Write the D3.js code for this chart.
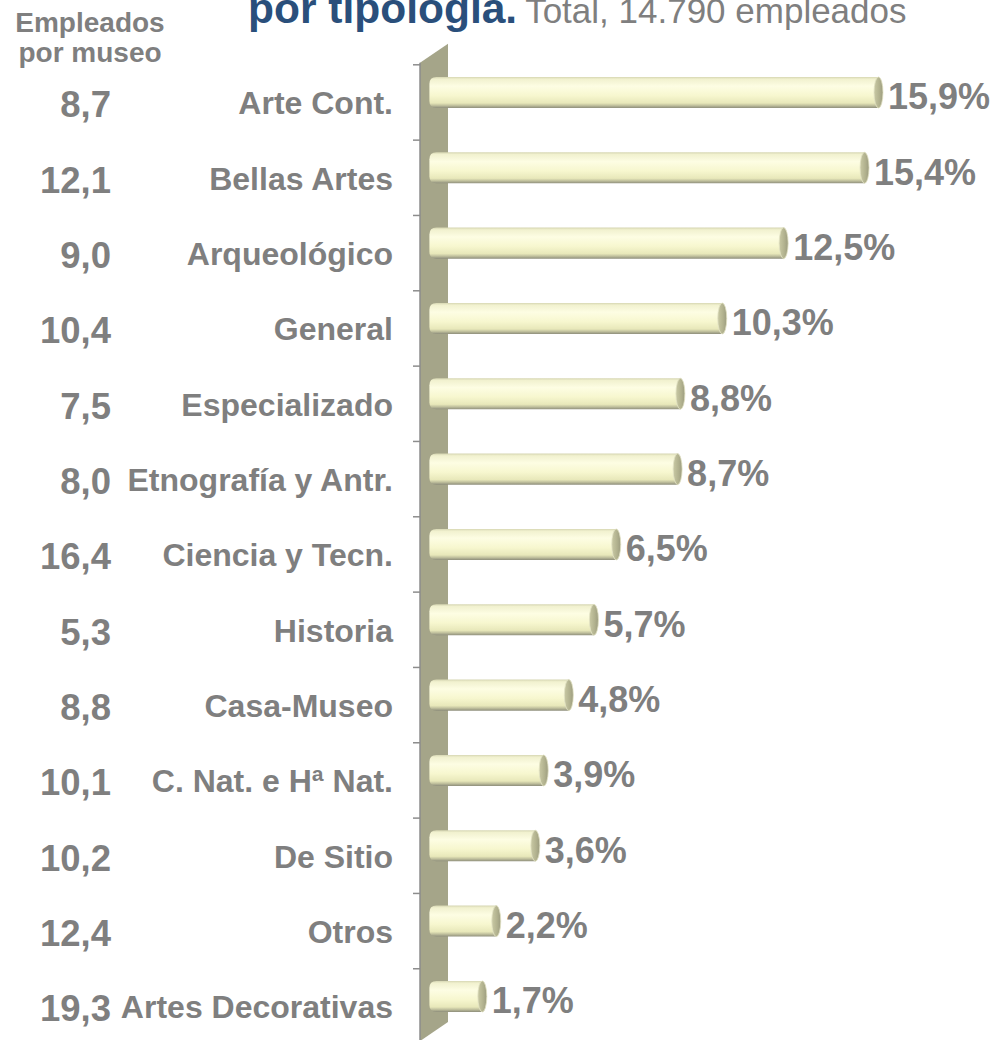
<!DOCTYPE html>
<html>
<head>
<meta charset="utf-8">
<script src="https://cdn.jsdelivr.net/npm/d3@7"></script>
<style>
  html, body { margin: 0; padding: 0; background: #ffffff; }
  svg { display: block; }
  text { font-family: "Liberation Sans", Arial, sans-serif; }
</style>
</head>
<body>
<svg id="chart" width="997" height="1040"></svg>
<script>
// ---- data ----
const categories = ["Arte Cont.", "Bellas Artes", "Arqueológico", "General", "Especializado",
  "Etnografía y Antr.", "Ciencia y Tecn.", "Historia", "Casa-Museo", "C. Nat. e Hª Nat.",
  "De Sitio", "Otros", "Artes Decorativas"];
const sharePct = [15.9, 15.4, 12.5, 10.3, 8.8, 8.7, 6.5, 5.7, 4.8, 3.9, 3.6, 2.2, 1.7];
const staffPerMuseum = [8.7, 12.1, 9.0, 10.4, 7.5, 8.0, 16.4, 5.3, 8.8, 10.1, 10.2, 12.4, 19.3];
const titleBold = "por tipología.";
const titleRest = "Total, 14.790 empleados";
const sideHeader = ["Empleados", "por museo"];

// ---- setup ----
const W = 997, H = 1040;
const svg = d3.select("#chart");
const loc = d3.formatLocale({decimal: ",", thousands: ".", grouping: [3], currency: ["", "€"]});
const fmt = loc.format(".1f");
const grey = "#7f7f7f";

const x = d3.scaleLinear().domain([0, 15.9]).range([439.4, 883]);
const y = d3.scaleBand().domain(categories).range([54.8, 1034.1]).paddingInner(0.588).paddingOuter(0.294);
const step = y.step(), bw = y.bandwidth();
const depth = 10; // 3D offset

const defs = svg.append("defs");
const g1 = defs.append("linearGradient").attr("id", "barGrad").attr("x1", 0).attr("y1", 0).attr("x2", 0).attr("y2", 1);
[[0, "#d6d6b2"], [0.07, "#f1f1cf"], [0.3, "#fdfde3"], [0.6, "#f7f7cf"], [0.84, "#e8e8ba"], [0.92, "#c0c09d"], [1, "#8e8e7b"]]
  .forEach(([o, c]) => g1.append("stop").attr("offset", o).attr("stop-color", c));
const g2 = defs.append("linearGradient").attr("id", "capGrad").attr("x1", 0).attr("y1", 0).attr("x2", 1).attr("y2", 0);
[[0, "#c9c9a4"], [0.6, "#b1b18e"], [1, "#9c9c80"]]
  .forEach(([o, c]) => g2.append("stop").attr("offset", o).attr("stop-color", c));

// ---- title (top line cut off by the picture edge, as in the original) ----
const title = svg.append("text").attr("x", 248).attr("y", 23);
title.append("tspan").attr("font-size", 42.5).attr("font-weight", "bold").attr("fill", "#2a4f7b").text(titleBold);
title.append("tspan").attr("font-size", 35).attr("fill", grey).attr("dx", 8).text(titleRest);

// ---- side header ----
svg.append("text").attr("font-size", 28).attr("font-weight", "bold").attr("fill", grey)
  .attr("text-anchor", "middle")
  .selectAll("tspan").data(sideHeader).join("tspan")
  .attr("x", 90).attr("y", (d, i) => 32 + i * 30).text(d => d);

// ---- wall (category axis) ----
const x0 = x(0);
const wallL = x0 - 19.4, wallR = x0 + 8.6;
const yTop = y.range()[0], yBot = y.range()[1];
svg.append("path")
  .attr("d", `M${wallL},${yTop + 8}L${wallR},${yTop - 11}L${wallR},${yBot - 12}L${wallL},${yBot + 7}Z`)
  .attr("fill", "#a5a589");
svg.append("line").attr("x1", wallL).attr("x2", wallL).attr("y1", yTop + 8).attr("y2", yBot + 7)
  .attr("stroke", "#8d8d8d").attr("stroke-width", 1.5);
// ticks
svg.append("g").selectAll("line").data(categories).join("line")
  .attr("x1", wallL - 7).attr("x2", wallL)
  .attr("y1", d => y(d) - (step - bw) / 2 + depth)
  .attr("y2", d => y(d) - (step - bw) / 2 + depth)
  .attr("stroke", "#8d8d8d").attr("stroke-width", 1.5);

// ---- bars ----
const rows = categories.map((c, i) => ({c, v: sharePct[i], m: staffPerMuseum[i]}));
const bars = svg.append("g").selectAll("g").data(rows).join("g");
const capRx = 4.5;
bars.append("path")
  .attr("d", d => {
    const xs = x0 - depth, xe = x(d.v) - capRx, t = y(d.c), b = t + bw, r = 7;
    return `M${xs + r},${t}L${xe},${t}L${xe},${b}L${xs + r},${b}Q${xs},${b} ${xs},${b - r}L${xs},${t + r}Q${xs},${t} ${xs + r},${t}Z`;
  })
  .attr("fill", "url(#barGrad)");
bars.append("ellipse")
  .attr("cx", d => x(d.v) - capRx)
  .attr("cy", d => y(d.c) + bw / 2)
  .attr("rx", capRx).attr("ry", bw / 2)
  .attr("fill", "url(#capGrad)")
  .attr("stroke", "#e2e2c4").attr("stroke-width", 0.8);

// percent labels
bars.append("text")
  .attr("x", d => x(d.v) + 5)
  .attr("y", d => y(d.c) + bw / 2 + 17)
  .attr("font-size", 36).attr("font-weight", "bold").attr("fill", grey)
  .text(d => fmt(d.v) + "%");

// category labels
bars.append("text")
  .attr("x", 393)
  .attr("y", d => y(d.c) + bw / 2 + 22)
  .attr("text-anchor", "end")
  .attr("font-size", 32).attr("font-weight", "bold").attr("fill", grey)
  .text(d => d.c);

// staff per museum
bars.append("text")
  .attr("x", 111)
  .attr("y", d => y(d.c) + bw / 2 + 25)
  .attr("text-anchor", "end")
  .attr("font-size", 36.5).attr("font-weight", "bold").attr("fill", grey)
  .text(d => fmt(d.m));
</script>
</body>
</html>
